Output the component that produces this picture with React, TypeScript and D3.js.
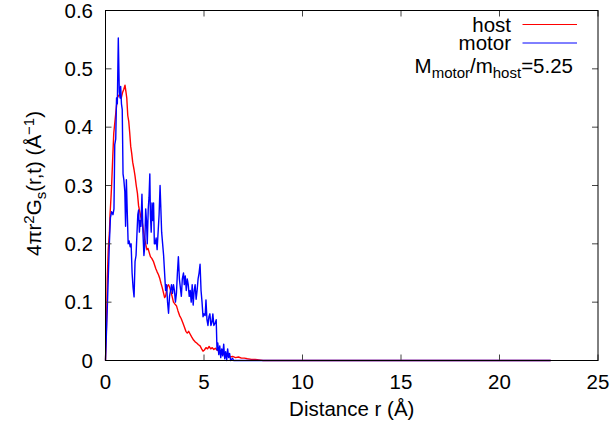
import React from 'react';
import * as d3 from 'd3';

const hostR = [0, 0.05, 0.09, 0.14, 0.2, 0.23, 0.28, 0.31, 0.37, 0.42, 0.48, 0.54, 0.6, 0.67, 0.74, 0.8, 0.87, 0.93, 0.99, 1.04, 1.08, 1.13, 1.18, 1.23, 1.28, 1.33, 1.38, 1.45, 1.5, 1.56, 1.62, 1.68, 1.74, 1.8, 1.86, 1.92, 1.98, 2.04, 2.1, 2.16, 2.22, 2.28, 2.35, 2.43, 2.5, 2.56, 2.62, 2.69, 2.76, 2.82, 2.88, 2.95, 3.0, 3.05, 3.1, 3.15, 3.2, 3.26, 3.32, 3.38, 3.45, 3.52, 3.6, 3.68, 3.76, 3.84, 3.92, 4.0, 4.08, 4.15, 4.22, 4.3, 4.38, 4.47, 4.55, 4.63, 4.72, 4.8, 4.88, 4.95, 5.02, 5.1, 5.18, 5.26, 5.34, 5.42, 5.5, 5.58, 5.66, 5.75, 5.85, 5.95, 6.05, 6.15, 6.25, 6.35, 6.45, 6.6, 6.75, 6.9, 7.05, 7.2, 7.4, 7.6, 7.8, 8.0, 22.6];
const hostG = [0, 0.06, 0.14, 0.19, 0.22, 0.25, 0.28, 0.3, 0.35, 0.39, 0.41, 0.43, 0.45, 0.455, 0.455, 0.45, 0.46, 0.465, 0.472, 0.46, 0.45, 0.42, 0.41, 0.39, 0.367, 0.355, 0.34, 0.327, 0.316, 0.3, 0.287, 0.265, 0.255, 0.245, 0.238, 0.225, 0.21, 0.2, 0.19, 0.192, 0.185, 0.178, 0.175, 0.17, 0.163, 0.157, 0.152, 0.147, 0.14, 0.132, 0.125, 0.115, 0.108, 0.11, 0.12, 0.128, 0.13, 0.125, 0.118, 0.11, 0.1, 0.097, 0.094, 0.085, 0.077, 0.072, 0.065, 0.058, 0.05, 0.047, 0.05, 0.045, 0.04, 0.035, 0.032, 0.03, 0.027, 0.025, 0.02, 0.016, 0.018, 0.022, 0.02, 0.024, 0.02, 0.022, 0.019, 0.021, 0.018, 0.016, 0.014, 0.01, 0.012, 0.008, 0.009, 0.006, 0.007, 0.005, 0.006, 0.004, 0.004, 0.003, 0.002, 0.002, 0.001, 0, 0];

const motorR = [0, 0.1, 0.19, 0.25, 0.31, 0.38, 0.43, 0.47, 0.52, 0.56, 0.6, 0.65, 0.7, 0.74, 0.77, 0.81, 0.85, 0.89, 0.93, 0.98, 1.02, 1.06, 1.1, 1.15, 1.2, 1.25, 1.3, 1.35, 1.4, 1.45, 1.5, 1.55, 1.6, 1.64, 1.68, 1.72, 1.76, 1.8, 1.85, 1.9, 1.95, 1.99, 2.04, 2.08, 2.12, 2.17, 2.21, 2.25, 2.28, 2.32, 2.36, 2.4, 2.44, 2.48, 2.52, 2.57, 2.62, 2.67, 2.72, 2.77, 2.81, 2.85, 2.9, 2.95, 3.0, 3.05, 3.1, 3.15, 3.2, 3.25, 3.3, 3.35, 3.4, 3.45, 3.5, 3.55, 3.6, 3.65, 3.7, 3.75, 3.8, 3.85, 3.9, 3.96, 4.0, 4.05, 4.1, 4.15, 4.2, 4.25, 4.3, 4.35, 4.4, 4.45, 4.5, 4.55, 4.6, 4.65, 4.7, 4.75, 4.8, 4.85, 4.9, 4.95, 5.0, 5.06, 5.1, 5.15, 5.2, 5.25, 5.3, 5.35, 5.4, 5.45, 5.5, 5.57, 5.62, 5.66, 5.7, 5.75, 5.8, 5.85, 5.9, 5.95, 6.0, 6.05, 6.1, 6.15, 6.2, 6.25, 6.3, 6.35, 6.45, 6.5, 22.6];
const motorG = [0, 0.1, 0.195, 0.245, 0.255, 0.25, 0.26, 0.37, 0.38, 0.45, 0.44, 0.553, 0.46, 0.45, 0.47, 0.44, 0.43, 0.32, 0.31, 0.29, 0.23, 0.31, 0.26, 0.2, 0.205, 0.195, 0.2, 0.15, 0.125, 0.109, 0.17, 0.18, 0.22, 0.25, 0.258, 0.22, 0.24, 0.23, 0.285, 0.22, 0.18, 0.195, 0.26, 0.24, 0.2, 0.26, 0.28, 0.32, 0.25, 0.22, 0.27, 0.24, 0.27, 0.2, 0.2, 0.21, 0.19, 0.22, 0.25, 0.3, 0.26, 0.22, 0.2, 0.18, 0.15, 0.12, 0.13, 0.1, 0.081, 0.11, 0.12, 0.13, 0.115, 0.13, 0.12, 0.1, 0.115, 0.15, 0.178, 0.14, 0.125, 0.11, 0.14, 0.15, 0.13, 0.145, 0.12, 0.14, 0.13, 0.11, 0.12, 0.1, 0.13, 0.095, 0.12, 0.13, 0.105, 0.12, 0.14, 0.15, 0.165, 0.12, 0.1, 0.075, 0.08, 0.077, 0.104, 0.07, 0.06, 0.075, 0.08, 0.06, 0.065, 0.08, 0.06, 0.064, 0.07, 0.018, 0.03, 0.01, 0.025, 0.005, 0.02, 0.008, 0.028, 0.003, 0.015, 0, 0.02, 0.005, 0.012, 0, 0.004, 0, 0];

const xTicks = [0, 5, 10, 15, 20, 25];
const yTicks = [0, 0.1, 0.2, 0.3, 0.4, 0.5, 0.6];
const yTickLabels = ['0', '0.1', '0.2', '0.3', '0.4', '0.5', '0.6'];
const seriesNames = ['host', 'motor'];
const seriesColors = ['#ff0000', '#0000ff'];

const FONT = '"Liberation Sans", Arial, Helvetica, sans-serif';

export default function App() {
  const W = 615, H = 428;
  const left = 105.5, right = 598, top = 10.5, bottom = 360.5;
  const x = d3.scaleLinear().domain([0, 25]).range([left, right]);
  const y = d3.scaleLinear().domain([0, 0.6]).range([bottom, top]);
  const line = d3.line<[number, number]>().x(d => x(d[0])).y(d => y(d[1]));
  const host: [number, number][] = hostR.map((r, i) => [r, hostG[i]]);
  const motor: [number, number][] = motorR.map((r, i) => [r, motorG[i]]);
  const series = [host, motor];
  const tl = 6;
  const fs = 20.5;
  const sfs = 15;

  return (
    <svg width={W} height={H} style={{ position: 'absolute', left: 0, top: 0, background: '#fff' }} fontFamily={FONT}>
      <rect x={0} y={0} width={W} height={H} fill="#fff" />
      {series.map((s, i) => (
        <path key={i} d={line(s) || ''} fill="none" stroke={seriesColors[i]} strokeWidth={1.4} strokeLinejoin="round" />
      ))}
      {xTicks.map(t => (
        <g key={'x' + t} stroke="#444" strokeWidth={1}>
          <line x1={x(t)} x2={x(t)} y1={bottom} y2={bottom - tl} />
          <line x1={x(t)} x2={x(t)} y1={top} y2={top + tl} />
        </g>
      ))}
      {yTicks.map(t => (
        <g key={'y' + t} stroke="#444" strokeWidth={1}>
          <line x1={left} x2={left + tl} y1={y(t)} y2={y(t)} />
          <line x1={right} x2={right - tl} y1={y(t)} y2={y(t)} />
        </g>
      ))}
      <rect x={left} y={top} width={right - left} height={bottom - top} fill="none" stroke="#000" strokeWidth={1} />
      {xTicks.map(t => (
        <text key={'xl' + t} x={x(t)} y={388.5} fontSize={fs} textAnchor="middle" fill="#000">{t}</text>
      ))}
      {yTicks.map((t, i) => (
        <text key={'yl' + t} x={93} y={y(t) + 7.3} fontSize={fs} textAnchor="end" fill="#000">{yTickLabels[i]}</text>
      ))}
      <text x={(left + right) / 2} y={415.5} fontSize={fs} textAnchor="middle" fill="#000">Distance r (Å)</text>
      <text transform={`translate(41,${(top + bottom) / 2 - 2}) rotate(-90)`} fontSize={fs} textAnchor="middle" fill="#000">
        4πr<tspan dy={-7.5} fontSize={sfs}>2</tspan><tspan dy={7.5}>G</tspan><tspan dy={5} fontSize={sfs}>s</tspan><tspan dy={-5}>(r,t) (Å</tspan><tspan dy={-7.5} fontSize={sfs}>−1</tspan><tspan dy={7.5}>)</tspan>
      </text>
      {seriesNames.map((n, i) => (
        <g key={n}>
          <text x={511} y={31.5 + i * 18} fontSize={fs} textAnchor="end" fill="#000">{n}</text>
          <line x1={522.5} x2={577} y1={24.5 + i * 18.5} y2={24.5 + i * 18.5} stroke={seriesColors[i]} strokeWidth={1} />
        </g>
      ))}
      <text x={573} y={72.5} fontSize={fs} textAnchor="end" fill="#000">
        M<tspan dy={5.5} fontSize={sfs}>motor</tspan><tspan dy={-5.5}>/m</tspan><tspan dy={5.5} fontSize={sfs}>host</tspan><tspan dy={-5.5}>=5.25</tspan>
      </text>
    </svg>
  );
}
